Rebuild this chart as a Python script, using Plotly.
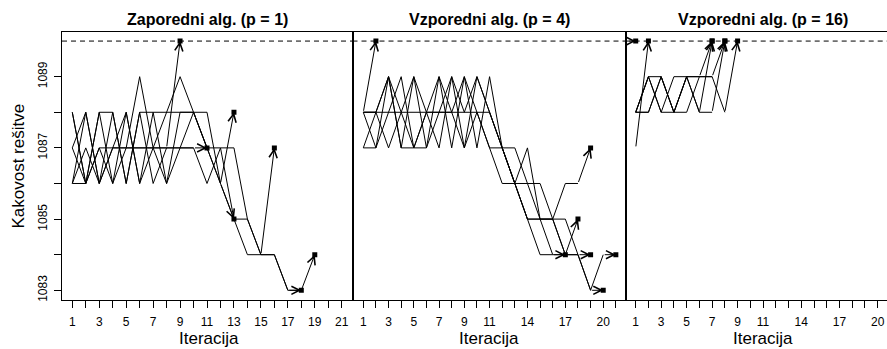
import plotly.graph_objects as go

# ---------------------------------------------------------------
# Data: quality of the solution per iteration for each run
# ---------------------------------------------------------------
ITER_TICKS = list(range(1, 22))
ITER_LABELS_P1 = [1, 3, 5, 7, 9, 11, 13, 15, 17, 19, 21]
ITER_LABELS_PAR = [1, 3, 5, 7, 9, 11, 14, 17, 20]
Y_TICKS = list(range(1083, 1090))
Y_LABELS = [1083, 1085, 1087, 1089]
OPTIMUM = 1090

PANEL_TITLES = ["Zaporedni alg. (p = 1)",
                "Vzporedni alg. (p = 4)",
                "Vzporedni alg. (p = 16)"]
X_TITLE = "Iteracija"
Y_TITLE = "Kakovost rešitve"

# sequential algorithm (p = 1)
runs_p1 = [
    [1086, 1086, 1087, 1087, 1087, 1087, 1087, 1087, 1090],
    [1087, 1088, 1086, 1087, 1087, 1087, 1087, 1087, 1087, 1087, 1087],
    [1088, 1086, 1088, 1088, 1086, 1088, 1088, 1088, 1088, 1088, 1088, 1086, 1088],
    [1088, 1086, 1087, 1086, 1088, 1086, 1087, 1088, 1089, 1088, 1087, 1086, 1085],
    [1086, 1088, 1086, 1087, 1088, 1086, 1088, 1086, 1087, 1087, 1086, 1087, 1087,
     1085, 1084, 1087],
    [1087, 1086, 1088, 1086, 1087, 1089, 1087, 1086, 1088, 1088, 1087, 1087, 1085,
     1085, 1084, 1084, 1083, 1083],
    [1086, 1087, 1086, 1088, 1086, 1088, 1086, 1087, 1087, 1088, 1087, 1086, 1085,
     1084, 1084, 1084, 1083, 1083, 1084],
]

# parallel algorithm (p = 4)
runs_p4 = [
    [1088, 1090],
    [1088, 1088, 1088, 1088, 1088, 1088, 1088, 1088, 1088, 1088, 1087, 1087, 1087,
     1086, 1085, 1084, 1084],
    [1087, 1087, 1089, 1087, 1089, 1087, 1089, 1088, 1089, 1087, 1089, 1087, 1086,
     1087, 1085, 1085, 1084, 1085],
    [1088, 1087, 1088, 1089, 1087, 1088, 1087, 1089, 1088, 1089, 1088, 1087, 1086,
     1085, 1085, 1085, 1086, 1086, 1087],
    [1087, 1088, 1089, 1088, 1087, 1087, 1088, 1089, 1087, 1088, 1087, 1086, 1086,
     1086, 1086, 1085, 1084, 1084, 1084],
    [1088, 1088, 1089, 1087, 1087, 1088, 1089, 1087, 1089, 1088, 1088, 1087, 1086,
     1085, 1085, 1085, 1085, 1084, 1083, 1083],
    [1088, 1088, 1087, 1088, 1089, 1088, 1088, 1088, 1087, 1089, 1088, 1087, 1086,
     1085, 1084, 1084, 1084, 1084, 1083, 1084, 1084],
]

# parallel algorithm (p = 16)
runs_p16 = [
    [1090],
    [1087, 1090],
    [1088, 1089, 1089, 1088, 1088, 1089, 1090],
    [1088, 1088, 1089, 1088, 1089, 1089, 1089, 1090],
    [1088, 1089, 1088, 1089, 1089, 1089, 1089, 1088, 1090],
    [1088, 1088, 1089, 1088, 1089, 1088, 1088, 1090],
    [1088, 1089, 1088, 1088, 1089, 1088, 1090],
]

# ---------------------------------------------------------------
# Layout geometry (pixels)
# ---------------------------------------------------------------
W, H = 887, 349
PLOT_TOP, PLOT_BOTTOM = 32, 302
Y_RANGE = [1082.72, 1090.26]
FONT = "Liberation Sans, Arial, Helvetica, sans-serif"

panels = [
    dict(left=62.0, right=352.5, xrange=[0.235, 21.80], labels=ITER_LABELS_P1,
         runs=runs_p1, title_cx=207, xtitle_cx=209, right_line=True),
    dict(left=352.5, right=625.7, xrange=[0.145, 21.78], labels=ITER_LABELS_PAR,
         runs=runs_p4, title_cx=489, xtitle_cx=489, right_line=True),
    dict(left=625.7, right=887.0, xrange=[0.215, 20.73], labels=ITER_LABELS_PAR,
         runs=runs_p16, title_cx=762.5, xtitle_cx=762.5, right_line=False),
]


def px_x(v):
    return v / W


def px_y(v):
    return 1 - v / H


fig = go.Figure()
annotations = []
shapes = []

for k, p in enumerate(panels, start=1):
    suffix = "" if k == 1 else str(k)
    xa, ya = "x" + suffix, "y" + suffix

    end_x, end_y = [], []
    for run in p["runs"]:
        iters = list(range(1, len(run) + 1))
        if len(run) >= 2:
            fig.add_trace(go.Scatter(
                x=iters[:-1], y=run[:-1], mode="lines",
                line=dict(color="black", width=1),
                xaxis=xa, yaxis=ya, showlegend=False, hoverinfo="skip"))
            # arrow for the last step of the run
            annotations.append(dict(
                x=iters[-1], y=run[-1], xref=xa, yref=ya,
                ax=iters[-2], ay=run[-2], axref=xa, ayref=ya,
                text="", showarrow=True, arrowhead=5, arrowsize=1.6,
                arrowwidth=1, arrowcolor="black", standoff=0))
        else:
            # run that reached the optimum immediately: short stub arrow
            annotations.append(dict(
                x=iters[-1], y=run[-1], xref=xa, yref=ya,
                ax=-8, ay=0, text="", showarrow=True, arrowhead=5,
                arrowsize=1.6, arrowwidth=1, arrowcolor="black", standoff=0))
        end_x.append(iters[-1])
        end_y.append(run[-1])

    fig.add_trace(go.Scatter(
        x=end_x, y=end_y, mode="markers",
        marker=dict(symbol="square", size=5, color="black"),
        xaxis=xa, yaxis=ya, showlegend=False, hoverinfo="skip"))

    # optimum reference line
    shapes.append(dict(type="line", xref=xa + " domain", yref=ya,
                       x0=0, x1=1, y0=OPTIMUM, y1=OPTIMUM,
                       line=dict(color="black", width=1, dash="5px,4px")))

    ticktext = [str(t) if t in p["labels"] else "" for t in ITER_TICKS]
    fig.layout["xaxis" + suffix] = dict(
        domain=[px_x(p["left"]), px_x(p["right"])],
        range=p["xrange"], anchor=ya,
        tickmode="array", tickvals=ITER_TICKS, ticktext=ticktext,
        ticks="outside", ticklen=7, tickwidth=1, tickcolor="black",
        ticklabelstandoff=3,
        showline=True, mirror=True, linecolor="black", linewidth=1,
        showgrid=False, zeroline=False,
        tickfont=dict(family=FONT, size=12, color="black"))

    yax = dict(
        domain=[px_y(PLOT_BOTTOM), px_y(PLOT_TOP)], range=Y_RANGE,
        anchor=xa, showline=True, mirror=p["right_line"],
        linecolor="black", linewidth=1, showgrid=False, zeroline=False)
    if k == 1:
        yax.update(tickmode="array", tickvals=Y_TICKS,
                   ticktext=[str(t) if t in Y_LABELS else "" for t in Y_TICKS],
                   ticks="outside", ticklen=7, tickwidth=1, tickcolor="black",
                   tickangle=-90, ticklabelstandoff=2,
                   tickfont=dict(family=FONT, size=12, color="black"))
    else:
        yax.update(showticklabels=False, ticks="")
    fig.layout["yaxis" + suffix] = yax

    # panel title
    annotations.append(dict(
        text="<b>" + PANEL_TITLES[k - 1] + "</b>", xref="paper", yref="paper",
        x=px_x(p["title_cx"]), y=px_y(20), xanchor="center", yanchor="middle",
        showarrow=False, font=dict(family=FONT, size=16, color="black")))
    # axis title below each panel
    annotations.append(dict(
        text=X_TITLE, xref="paper", yref="paper",
        x=px_x(p["xtitle_cx"]), y=px_y(340), xanchor="center", yanchor="middle",
        showarrow=False, font=dict(family=FONT, size=17, color="black")))

annotations.append(dict(
    text=Y_TITLE, xref="paper", yref="paper", textangle=-90,
    x=px_x(18.5), y=px_y(167), xanchor="center", yanchor="middle",
    showarrow=False, font=dict(family=FONT, size=17, color="black")))

fig.update_layout(
    width=W, height=H, margin=dict(l=0, r=0, t=0, b=0),
    paper_bgcolor="white", plot_bgcolor="white",
    annotations=annotations, shapes=shapes,
    font=dict(family=FONT, color="black"))

fig.write_html("out.html")
